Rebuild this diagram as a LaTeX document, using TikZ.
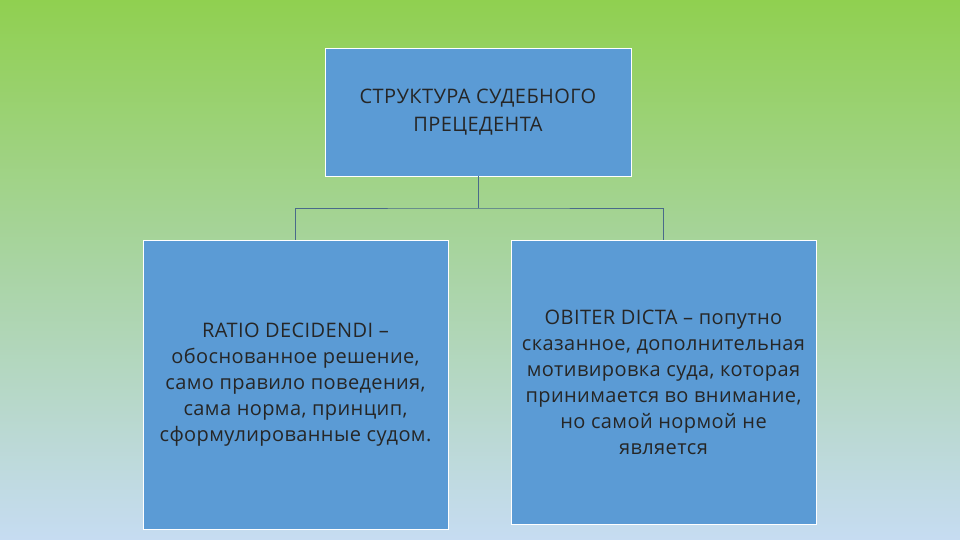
\documentclass[tikz,border=0pt]{standalone}
\usepackage{fontspec}
\setmainfont{Open Sans}[LetterSpace=2]
\definecolor{topg}{HTML}{90D050}
\definecolor{midg}{HTML}{A9D4A4}
\definecolor{botb}{HTML}{C6DCF2}
\definecolor{boxb}{HTML}{5B9BD5}
\definecolor{linec}{HTML}{4A6A8A}
\begin{document}
\begin{tikzpicture}[x=1pt,y=-1pt,
  box/.style={draw=white,line width=0.8pt,fill=boxb,align=center,text=black!85,font=\fontsize{20}{26}\selectfont,inner sep=0pt},
  conn/.style={draw=linec,line width=0.6pt}]
\shade[top color=topg,bottom color=botb,middle color=midg] (0,0) rectangle (960,540);
\useasboundingbox (0,0) rectangle (960,540);
\node[box,minimum width=306pt,minimum height=128pt,font=\fontsize{20}{28}\selectfont] (top) at (478,112) {СТРУКТУРА СУДЕБНОГО\\ПРЕЦЕДЕНТА};
\node[box,minimum width=305pt,minimum height=289pt] (left) at (295.5,384.5) {RATIO DECIDENDI –\\обоснованное решение,\\само правило поведения,\\сама норма, принцип,\\сформулированные судом.};
\node[box,minimum width=305pt,minimum height=284pt] (right) at (663.5,382) {OBITER DICTA – попутно\\сказанное, дополнительная\\мотивировка суда, которая\\принимается во внимание,\\но самой нормой не\\является};
\coordinate (j) at (478,208);
\draw[conn] (top.south) -- (j);
\draw[conn] (left.north) |- (j) -| (right.north);
\end{tikzpicture}
\end{document}
